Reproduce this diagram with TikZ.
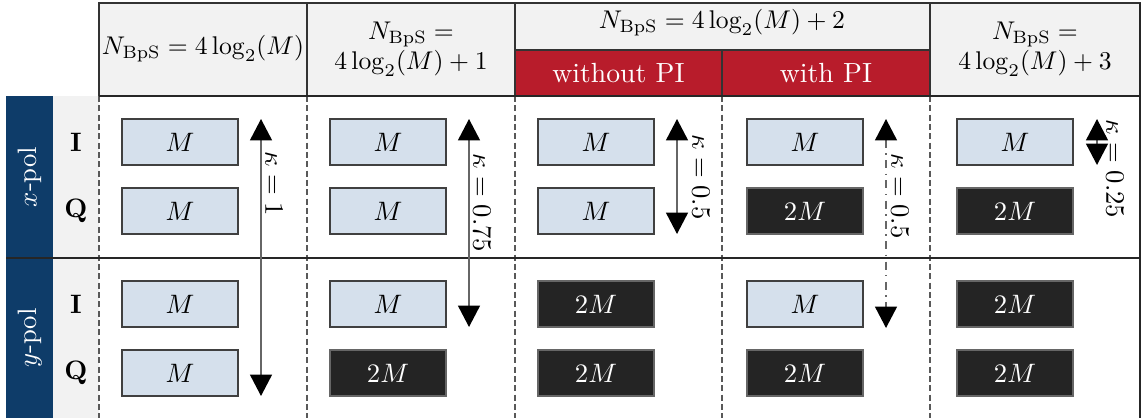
\documentclass[tikz,border=0pt]{standalone}
\usetikzlibrary{arrows.meta}
\definecolor{polblue}{HTML}{0E3C69}
\definecolor{pired}{HTML}{B81C2B}
\definecolor{boxblue}{HTML}{D5E0EC}
\definecolor{boxdark}{HTML}{242424}
\definecolor{hdrgray}{HTML}{F2F2F2}
\begin{document}
\begin{tikzpicture}[x=0.375pt,y=-0.375pt,
  hdr/.style={fill=hdrgray,draw=black!80,line width=0.6pt},
  redcell/.style={fill=pired,draw=black!80,line width=0.6pt},
  sep/.style={draw=black!65,line width=0.45pt,dash pattern=on 2.2pt off 1.3pt},
  rule/.style={draw=black!85,line width=0.6pt},
  lightbox/.style={draw=black!75,fill=boxblue,minimum width=43.5pt,minimum height=17.25pt,inner sep=0pt,line width=0.5pt},
  darkbox/.style={draw=black!60,fill=boxdark,text=white,minimum width=43.5pt,minimum height=17.25pt,inner sep=0pt,line width=0.5pt},
  kap/.style={draw=black!60,line width=0.6pt,{Triangle[width=8.2pt,length=8pt,color=black]}-{Triangle[width=8.2pt,length=8pt,color=black]}},
  kaplabel/.style={rotate=-90,inner sep=0pt},
  txt/.style={inner sep=0pt,align=center},
  hdrtxt/.style={inner sep=0pt,align=center,scale=0.96},
  rowlab/.style={inner sep=0pt,font=\bfseries}
]
\useasboundingbox (0,0) rectangle (1145,418);
% left columns
\fill[polblue] (6,96) rectangle (53,418);
\fill[hdrgray] (53,96) rectangle (99,418);
% header
\path[hdr] (99,3) rectangle (307,96);
\path[hdr] (307,3) rectangle (515,96);
\path[hdr] (515,3) rectangle (930,50);
\path[redcell] (515,50) rectangle (722,96);
\path[redcell] (722,50) rectangle (930,96);
\path[hdr] (930,3) rectangle (1140,96);
\node[hdrtxt] (h1) at (203,49) {$N_{\mathrm{BpS}} = 4\log_2(M)$};
\node[hdrtxt] (h2) at (411,49) {$N_{\mathrm{BpS}} =$\\$4\log_2(M)+1$};
\node[hdrtxt] (h3) at (722,23) {$N_{\mathrm{BpS}} = 4\log_2(M)+2$};
\node[txt,text=white,scale=1.04] (h3a) at (618.5,73) {without PI};
\node[txt,text=white,scale=1.04] (h3b) at (826,73) {with PI};
\node[hdrtxt] (h5) at (1035,49) {$N_{\mathrm{BpS}} =$\\$4\log_2(M)+3$};
% separators
\foreach \xx in {99,307,515,722,930} \draw[sep] (\xx,96) -- (\xx,418);
\draw[rule] (1140,3) -- (1140,418);
\draw[rule] (6,258) -- (1140,258);
\draw[rule] (99,96) -- (1140,96);
% row labels
\node[txt,rotate=90,text=white] (xpol) at (30,177) {$x$-pol};
\node[txt,rotate=90,text=white] (ypol) at (30,338) {$y$-pol};
\node[rowlab] (r1) at (76,142) {I};
\node[rowlab] (r2) at (76,211) {Q};
\node[rowlab] (r3) at (76,304) {I};
\node[rowlab] (r4) at (76,373) {Q};
% column 1
\node[lightbox] (b11) at (180,142) {$M$};
\node[lightbox] (b12) at (180,211) {$M$};
\node[lightbox] (b13) at (180,304) {$M$};
\node[lightbox] (b14) at (180,373) {$M$};
% column 2
\node[lightbox] (b21) at (388,142) {$M$};
\node[lightbox] (b22) at (388,211) {$M$};
\node[lightbox] (b23) at (388,304) {$M$};
\node[darkbox] (b24) at (388,373) {$2M$};
% column 3
\node[lightbox] (b31) at (596,142) {$M$};
\node[lightbox] (b32) at (596,211) {$M$};
\node[darkbox] (b33) at (596,304) {$2M$};
\node[darkbox] (b34) at (596,373) {$2M$};
% column 4
\node[lightbox] (b41) at (805,142) {$M$};
\node[darkbox] (b42) at (805,211) {$2M$};
\node[lightbox] (b43) at (805,304) {$M$};
\node[darkbox] (b44) at (805,373) {$2M$};
% column 5
\node[lightbox] (b51) at (1015,142) {$M$};
\node[darkbox] (b52) at (1015,211) {$2M$};
\node[darkbox] (b53) at (1015,304) {$2M$};
\node[darkbox] (b54) at (1015,373) {$2M$};
% kappa arrows
\coordinate (a1t) at (261,119); \coordinate (a1b) at (261,396);
\coordinate (a2t) at (469,119); \coordinate (a2b) at (469,327);
\coordinate (a3t) at (677,119); \coordinate (a3b) at (677,234);
\coordinate (a4t) at (886,119); \coordinate (a4b) at (886,328);
\coordinate (a5t) at (1097,119); \coordinate (a5b) at (1097,165);
\draw[kap] (a1t) -- (a1b);
\draw[kap] (a2t) -- (a2b);
\draw[kap] (a3t) -- (a3b);
\draw[kap,dash dot] (a4t) -- (a4b);
\draw[kap] (a5t) -- (a5b);
\node[kaplabel] (k1) at (274,184) {$\kappa = 1$};
\node[kaplabel] (k2) at (482,203) {$\kappa = 0.75$};
\node[kaplabel] (k3) at (701,177) {$\kappa = 0.5$};
\node[kaplabel] (k4) at (900,196) {$\kappa = 0.5$};
\node[kaplabel] (k5) at (1115,169) {$\kappa = 0.25$};
\end{tikzpicture}
\end{document}
